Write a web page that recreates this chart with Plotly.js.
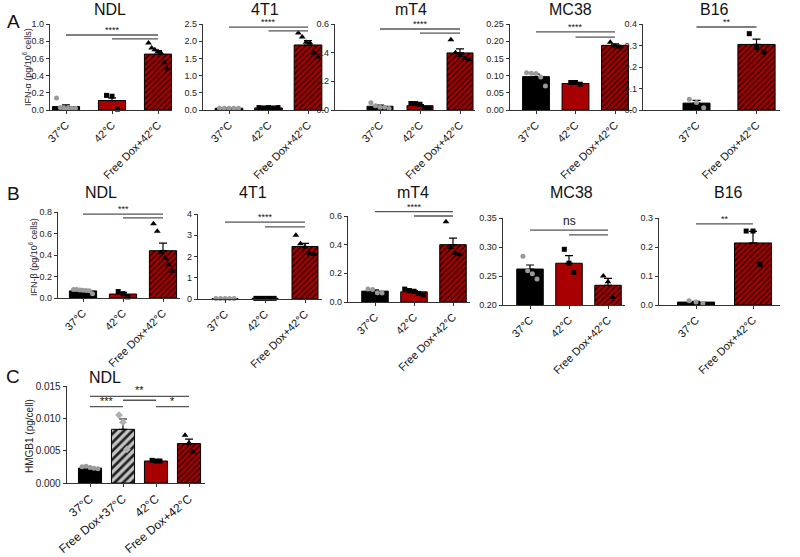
<!DOCTYPE html>
<html><head><meta charset="utf-8">
<script src="https://cdn.plot.ly/plotly-3.0.1.min.js"></script>
<style>body{margin:0;background:#fff}#chart{width:800px;height:557px}</style>
</head><body><div id="chart"></div>
<script>
// ---------- categories ----------
const catsA = ['37°C', '42°C', 'Free Dox+42°C'];
const catsB16 = ['37°C', 'Free Dox+42°C'];
const catsC = ['37°C', 'Free Dox+37°C', '42°C', 'Free Dox+42°C'];

// ---------- Row A: IFN-alpha ----------
const aNDL_mean = [0.04, 0.11, 0.65];
const aNDL_sem = [0.02, 0.03, 0.04];
const aNDL_pts = [[0.14, 0.03, 0.02, 0.02, 0.02, 0.02], [0.17, 0.16, 0.01], [0.78, 0.72, 0.70, 0.68, 0.66, 0.55, 0.48]];
const aNDL_sig = [[0, 2, 0.872, '****'], [1, 2, 0.826, '']];

const a4T1_mean = [0.05, 0.06, 1.89];
const a4T1_sem = [0.005, 0.005, 0.13];
const a4T1_pts = [[0.05, 0.05, 0.05, 0.05, 0.05], [0.07, 0.06, 0.07, 0.06, 0.07], [2.24, 2.12, 1.97, 1.95, 1.66, 1.54]];
const a4T1_sig = [[0, 2, 2.41, '****'], [1, 2, 2.30, '']];

const amT4_mean = [0.026, 0.03, 0.398];
const amT4_sem = [0.008, 0.008, 0.028];
const amT4_pts = [[0.05, 0.03, 0.02, 0.02, 0.01], [0.045, 0.045, 0.04, 0.01, 0.01], [0.49, 0.40, 0.38, 0.36, 0.35]];
const amT4_sig = [[0, 2, 0.565, '****'], [1, 2, 0.537, '']];

const aMC38_mean = [0.097, 0.077, 0.188];
const aMC38_sem = [0.007, 0.002, 0.004];
const aMC38_pts = [[0.108, 0.107, 0.106, 0.096, 0.07], [0.08, 0.08, 0.075], [0.197, 0.186, 0.183]];
const aMC38_sig = [[0, 2, 0.227, '****'], [1, 2, 0.212, '']];

const aB16_mean = [0.032, 0.305];
const aB16_sem = [0.013, 0.025];
const aB16_pts = [[0.05, 0.035, 0.01], [0.355, 0.29, 0.27]];
const aB16_sig = [[0, 1, 0.386, '**']];

// ---------- Row B: IFN-beta ----------
const bNDL_mean = [0.066, 0.037, 0.44];
const bNDL_sem = [0.007, 0.015, 0.07];
const bNDL_pts = [[0.08, 0.078, 0.075, 0.072, 0.07, 0.068, 0.04], [0.06, 0.04, 0.01], [0.69, 0.62, 0.42, 0.37, 0.31, 0.25]];
const bNDL_sig = [[0, 2, 0.78, '***'], [1, 2, 0.745, '']];

const b4T1_mean = [0.02, 0.03, 2.47];
const b4T1_sem = [0.005, 0.005, 0.15];
const b4T1_pts = [[0.02, 0.02, 0.02, 0.02, 0.02], [0.03, 0.03, 0.03, 0.03, 0.03], [3.0, 2.6, 2.45, 2.15, 2.1]];
const b4T1_sig = [[0, 2, 3.62, '****'], [1, 2, 3.39, '']];

const bmT4_mean = [0.076, 0.071, 0.40];
const bmT4_sem = [0.008, 0.008, 0.045];
const bmT4_pts = [[0.09, 0.088, 0.065, 0.062], [0.09, 0.08, 0.075, 0.06, 0.05], [0.56, 0.38, 0.34, 0.33]];
const bmT4_sig = [[0, 2, 0.63, '****'], [1, 2, 0.60, '']];

const bMC38_mean = [0.262, 0.272, 0.234];
const bMC38_sem = [0.007, 0.013, 0.012];
const bMC38_pts = [[0.284, 0.259, 0.254, 0.245], [0.296, 0.272, 0.256], [0.25, 0.24, 0.213]];
const bMC38_sig = [[0, 2, 0.329, 'ns'], [1, 2, 0.321, '']];

const bB16_mean = [0.01, 0.214];
const bB16_sem = [0.003, 0.04];
const bB16_pts = [[0.015, 0.01, 0.005], [0.255, 0.255, 0.14]];
const bB16_sig = [[0, 1, 0.28, '**']];

// ---------- Row C: HMGB1 ----------
const cNDL_mean = [0.0023, 0.0083, 0.0034, 0.0061];
const cNDL_sem = [0.0001, 0.0016, 0.0001, 0.0007];
const cNDL_pts = [[0.0025, 0.0026, 0.0024, 0.0023, 0.0022], [0.0105, 0.0094, 0.0052], [0.0035, 0.0034, 0.0034], [0.0074, 0.0062, 0.0048]];
const cNDL_sig = [[0, 3, 0.0134, '**'], [0, 1, 0.0118, '***'], [1, 2, 0.0128, ''], [2, 3, 0.0118, '*']];

// ---------- styles ----------
const RED = '#a80000';
const FILL = {
  black: {color: '#000'},
  red: {color: RED},
  redHatch: {color: RED, pattern: {shape: '/', bgcolor: RED, fgcolor: '#200000', size: 4, solidity: 0.35}},
  greyHatch: {color: '#9a9a9a', pattern: {shape: '/', bgcolor: '#c4c4c4', fgcolor: '#222', size: 6, solidity: 0.45}}
};
const MARK = {
  greyCircle: {symbol: 'circle', color: '#9a9a9a', size: 5},
  blackSquare: {symbol: 'square', color: '#000', size: 5},
  blackTriangle: {symbol: 'triangle-up', color: '#000', size: 6},
  greyDiamond: {symbol: 'diamond', color: '#b0b0b0', size: 6}
};
const fills3 = ['black', 'red', 'redHatch'];
const marks3 = ['greyCircle', 'blackSquare', 'blackTriangle'];
const fillsB16 = ['black', 'redHatch'];
const marksB16 = ['greyCircle', 'blackSquare'];
const fillsC = ['black', 'greyHatch', 'red', 'redHatch'];
const marksC = ['greyCircle', 'greyDiamond', 'blackSquare', 'blackTriangle'];

// layout geometry (pixels)
const panels = [
  {cats: catsA, mean: aNDL_mean, sem: aNDL_sem, pts: aNDL_pts, sig: aNDL_sig, fills: fills3, marks: marks3, title: 'NDL', L: 50, R: 172, c0: 66, s: 46, top: 24, bot: 110, y0: 0, y1: 1.0, dt: 0.2, fmt: '.1f', w: 0.59, tx: 110, ty: 10},
  {cats: catsA, mean: a4T1_mean, sem: a4T1_sem, pts: a4T1_pts, sig: a4T1_sig, fills: fills3, marks: marks3, title: '4T1', L: 203, R: 325, c0: 229, s: 39.5, top: 24, bot: 110, y0: 0, y1: 2.5, dt: 0.5, fmt: '.1f', w: 0.7, tx: 265, ty: 10},
  {cats: catsA, mean: amT4_mean, sem: amT4_sem, pts: amT4_pts, sig: amT4_sig, fills: fills3, marks: marks3, title: 'mT4', L: 335, R: 475, c0: 380, s: 40, top: 24, bot: 110, y0: 0, y1: 0.6, dt: 0.2, fmt: '.1f', w: 0.65, tx: 411, ty: 10},
  {cats: catsA, mean: aMC38_mean, sem: aMC38_sem, pts: aMC38_pts, sig: aMC38_sig, fills: fills3, marks: marks3, title: 'MC38', L: 510, R: 632, c0: 536, s: 39.5, top: 24, bot: 110, y0: 0, y1: 0.25, dt: 0.05, fmt: '.2f', w: 0.68, tx: 570, ty: 10},
  {cats: catsB16, mean: aB16_mean, sem: aB16_sem, pts: aB16_pts, sig: aB16_sig, fills: fillsB16, marks: marksB16, title: 'B16', L: 643, R: 780, c0: 696.5, s: 60, top: 24, bot: 110, y0: 0, y1: 0.4, dt: 0.1, fmt: '.1f', w: [0.45, 0.62], tx: 714, ty: 10},

  {cats: catsA, mean: bNDL_mean, sem: bNDL_sem, pts: bNDL_pts, sig: bNDL_sig, fills: fills3, marks: marks3, title: 'NDL', L: 58, R: 180, c0: 83, s: 40, top: 212, bot: 298, y0: 0, y1: 0.8, dt: 0.2, fmt: '.1f', w: 0.68, tx: 101, ty: 192},
  {cats: catsA, mean: b4T1_mean, sem: b4T1_sem, pts: b4T1_pts, sig: b4T1_sig, fills: fills3, marks: marks3, title: '4T1', L: 198, R: 322, c0: 225, s: 40, top: 214, bot: 299, y0: 0, y1: 4, dt: 1, fmt: 'd', w: 0.65, tx: 253, ty: 192},
  {cats: catsA, mean: bmT4_mean, sem: bmT4_sem, pts: bmT4_pts, sig: bmT4_sig, fills: fills3, marks: marks3, title: 'mT4', L: 348, R: 470, c0: 375, s: 39, top: 216, bot: 302, y0: 0, y1: 0.6, dt: 0.2, fmt: '.1f', w: 0.68, tx: 413, ty: 192},
  {cats: catsA, mean: bMC38_mean, sem: bMC38_sem, pts: bMC38_pts, sig: bMC38_sig, fills: fills3, marks: marks3, title: 'MC38', L: 503, R: 625, c0: 530, s: 39, top: 218, bot: 305, y0: 0.20, y1: 0.35, dt: 0.05, fmt: '.2f', w: 0.68, tx: 571, ty: 192},
  {cats: catsB16, mean: bB16_mean, sem: bB16_sem, pts: bB16_pts, sig: bB16_sig, fills: fillsB16, marks: marksB16, title: 'B16', L: 659, R: 780, c0: 696, s: 57, top: 218, bot: 305, y0: 0, y1: 0.3, dt: 0.1, fmt: '.1f', w: 0.65, tx: 728, ty: 192},

  {cats: catsC, mean: cNDL_mean, sem: cNDL_sem, pts: cNDL_pts, sig: cNDL_sig, fills: fillsC, marks: marksC, title: 'NDL', L: 67, R: 205, c0: 90, s: 33, top: 386, bot: 483, y0: 0, y1: 0.015, dt: 0.005, fmt: '.3f', w: 0.7, tx: 105, ty: 377, big: true}
];

const W = 800, H = 557;
const FONT = 'Liberation Sans, Arial, Helvetica, sans-serif';
const traces = [], shapes = [], annotations = [];
const layout = {
  width: W, height: H, margin: {l: 0, r: 0, t: 0, b: 0},
  paper_bgcolor: '#fff', plot_bgcolor: 'rgba(0,0,0,0)', showlegend: false,
  font: {family: FONT, color: '#222', size: 10},
  bargap: 0
};

panels.forEach((p, i) => {
  const k = i === 0 ? '' : String(i + 1);
  const xa = 'x' + k, ya = 'y' + k;
  const idx = p.cats.map((_, j) => j);
  const toPaperY = v => (H - p.bot) / H + (v - p.y0) / (p.y1 - p.y0) * (p.bot - p.top) / H;
  layout['xaxis' + k] = {
    domain: [p.L / W, p.R / W], anchor: ya,
    range: [(p.L - p.c0) / p.s, (p.R - p.c0) / p.s],
    tickvals: idx, ticktext: p.cats, tickangle: p.big ? -40 : -45,
    showline: true, linecolor: '#333', linewidth: 1.3, ticks: 'outside', ticklen: 3, tickcolor: '#333',
    showgrid: false, zeroline: false, fixedrange: true,
    tickfont: {size: p.big ? 12 : 11, family: FONT, color: '#111'}
  };
  layout['yaxis' + k] = {
    domain: [1 - p.bot / H, 1 - p.top / H], anchor: xa,
    range: [p.y0, p.y1], tick0: p.y0, dtick: p.dt, tickformat: p.fmt,
    showline: true, linecolor: '#333', linewidth: 1.3, ticks: 'outside', ticklen: 3, tickcolor: '#333',
    ticklabelstandoff: 0,
    showgrid: false, zeroline: false, fixedrange: true,
    tickfont: {size: p.big ? 10 : 9, family: FONT, color: '#222'}
  };
  // bars
  idx.forEach(j => {
    const f = FILL[p.fills[j]];
    const marker = {color: f.color, line: {color: '#000', width: 1}};
    if (f.pattern) marker.pattern = f.pattern;
    traces.push({
      type: 'bar', x: [j], y: [p.mean[j]], xaxis: xa, yaxis: ya,
      width: Array.isArray(p.w) ? p.w[j] : p.w,
      marker: marker,
      error_y: {type: 'data', symmetric: false, array: [p.sem[j]], arrayminus: [0], color: '#000', thickness: 1.2, width: 4},
      hoverinfo: 'skip'
    });
  });
  // points
  idx.forEach(j => {
    const vals = p.pts[j];
    const n = vals.length;
    const bw = Array.isArray(p.w) ? p.w[j] : p.w;
    const spread = Math.min(bw * 0.7, 0.12 * (n - 1));
    const xs = vals.map((_, m) => n > 1 ? j + (m / (n - 1) - 0.5) * spread : j);
    const mk = MARK[p.marks[j]];
    traces.push({
      type: 'scatter', mode: 'markers', x: xs, y: vals, xaxis: xa, yaxis: ya, cliponaxis: false,
      marker: {symbol: mk.symbol, color: mk.color, size: mk.size, line: {width: 0}},
      hoverinfo: 'skip'
    });
  });
  // significance lines (y in paper units so lines above the top tick are not clipped)
  p.sig.forEach(sg => {
    const yp = toPaperY(sg[2]);
    shapes.push({type: 'line', xref: xa, yref: 'paper', x0: sg[0], x1: sg[1], y0: yp, y1: yp, line: {color: '#555', width: 1.3}});
    if (sg[3]) {
      const ns = sg[3] === 'ns';
      annotations.push({xref: xa, yref: 'paper', x: (sg[0] + sg[1]) / 2, y: yp, yanchor: 'bottom', showarrow: false,
        text: sg[3], yshift: ns ? 0 : -2, font: {size: ns ? 12 : (p.big ? 11 : 9), color: '#111', family: FONT}});
    }
  });
  // panel title
  annotations.push({xref: 'paper', yref: 'paper', x: p.tx / W, y: 1 - p.ty / H, xanchor: 'center', yanchor: 'middle',
    showarrow: false, text: p.title, font: {size: 16, color: '#111', family: FONT}});
});

// panel letters
[['A', 13, 22], ['B', 13, 193], ['C', 13, 376]].forEach(l => {
  annotations.push({xref: 'paper', yref: 'paper', x: l[1] / W, y: 1 - l[2] / H, xanchor: 'center', yanchor: 'middle',
    showarrow: false, text: l[0], font: {size: 19, color: '#111', family: FONT}});
});
// y-axis titles
[['IFN-α (pg/10<sup>6</sup> cells)', 27, 67, 9], ['IFN-β (pg/10<sup>6</sup> cells)', 33, 257, 9], ['HMGB1 (pg/cell)', 29, 436, 10]].forEach(t => {
  annotations.push({xref: 'paper', yref: 'paper', x: t[1] / W, y: 1 - t[2] / H, xanchor: 'center', yanchor: 'middle',
    showarrow: false, textangle: -90, text: t[0], font: {size: t[3], color: '#222', family: FONT}});
});

layout.shapes = shapes;
layout.annotations = annotations;
Plotly.newPlot('chart', traces, layout, {staticPlot: true, displayModeBar: false});
</script></body></html>
